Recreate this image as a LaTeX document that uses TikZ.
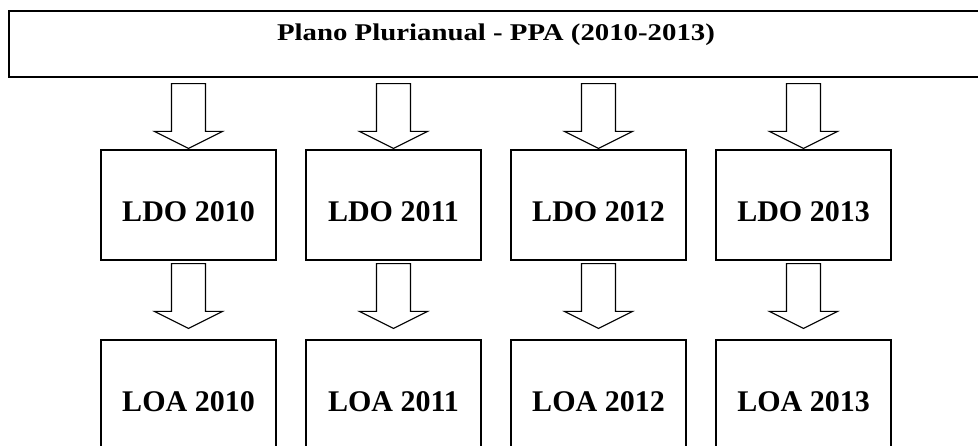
\documentclass[tikz,border=0pt]{standalone}
\usepackage{fontspec}
\setmainfont{Liberation Serif}
\usetikzlibrary{calc}

\tikzset{
  lei/.style={draw, line width=1.2pt, minimum width=175pt, minimum height=110pt, inner sep=0pt,
    font=\fontsize{30}{36}\selectfont\bfseries, text height=53pt, text depth=20pt},
  fatarrow/.style={draw, line width=1.1pt, fill=white, line join=miter},
}
% block arrow: #1 = top of the shaft, #2 = tip
\newcommand{\fatdown}[2]{%
  \draw[fatarrow] ($(#1)+(-17,0)$) -- ($(#1)+(17,0)$) -- ($(#2)+(17,17)$) -- ($(#2)+(34,17)$)
    -- (#2) -- ($(#2)+(-34,17)$) -- ($(#2)+(-17,17)$) -- cycle;}

\begin{document}
\begin{tikzpicture}[x=1pt,y=1pt]
\useasboundingbox (0,0) rectangle (978,445);

\node[draw, line width=1.2pt, minimum width=974pt, minimum height=66pt, inner sep=0pt,
  font=\fontsize{24}{28}\selectfont\bfseries, text height=12pt, text depth=18pt]
  (ppa) at (496,401) {\scalebox{1.2}[1]{Plano Plurianual - PPA (2010-2013)}};

\foreach \ano [count=\i from 0] in {2010,2011,2012,2013} {
  \node[lei] (ldo\ano) at (188.5+205*\i,240) {LDO \ano};
  \node[lei] (loa\ano) at (188.5+205*\i,50) {LOA \ano};
  \coordinate (s\ano) at ($(ppa.south -| ldo\ano.north)+(0,-6)$);
  \coordinate (t\ano) at ($(ldo\ano.north)+(0,1)$);
  \coordinate (u\ano) at ($(ldo\ano.south)+(0,-3)$);
  \coordinate (v\ano) at ($(loa\ano.north)+(0,11)$);
  \fatdown{s\ano}{t\ano}
  \fatdown{u\ano}{v\ano}
}
\end{tikzpicture}
\end{document}
